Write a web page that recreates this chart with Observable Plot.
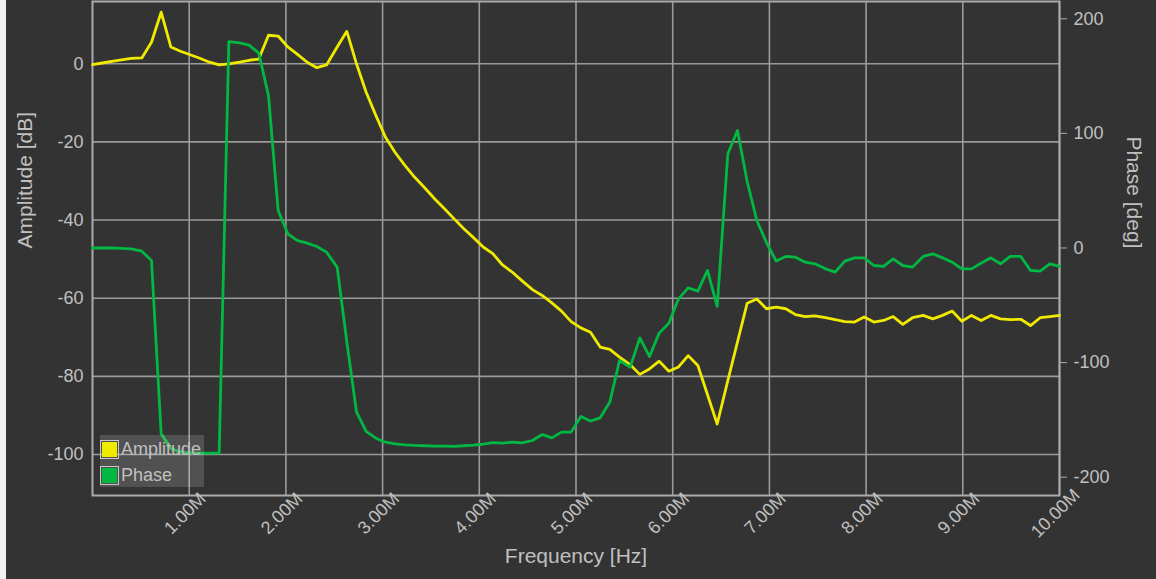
<!DOCTYPE html>
<html>
<head>
<meta charset="utf-8">
<script src="https://cdn.jsdelivr.net/npm/d3@7"></script>
<script src="https://cdn.jsdelivr.net/npm/@observablehq/plot@0.6"></script>
<style>
  html, body { margin: 0; padding: 0; background: #f2f2f2; }
  #wrap { position: relative; margin-left: 6px; width: 1150px; height: 579px; background: #333333; overflow: hidden;
          font-family: "Liberation Sans", Arial, sans-serif; }
  #legend { position: absolute; left: 94px; top: 435px; width: 104px; height: 52px; background: rgba(255,255,255,0.15); }
  .item { position: absolute; left: 0; height: 20px; display: flex; align-items: center; color: #c0c0c0; font-size: 18px; }
  .sw { width: 17px; height: 17px; border: 1.5px solid #c8c8c8; box-sizing: content-box; margin-right: 2px; }
  .sw div { width: 15px; height: 15px; margin: 1px; }
</style>
</head>
<body>
<div id="wrap"><div id="chart"></div>
  <div id="legend">
    <div class="item" style="top:4px"><div class="sw"><div id="swA"></div></div><span>Amplitude</span></div>
    <div class="item" style="top:30px"><div class="sw"><div id="swP"></div></div><span>Phase</span></div>
  </div>
</div>
<script>
// Frequency in MHz
const freq = [0.00,0.10,0.20,0.30,0.40,0.51,0.61,0.71,0.81,0.91,
  1.01,1.11,1.21,1.31,1.41,1.52,1.62,1.72,1.82,1.92,
  2.02,2.12,2.22,2.32,2.42,2.53,2.63,2.73,2.83,2.93,
  3.03,3.13,3.23,3.33,3.43,3.54,3.64,3.74,3.84,3.94,
  4.04,4.14,4.24,4.34,4.44,4.55,4.65,4.75,4.85,4.95,
  5.05,5.15,5.25,5.35,5.45,5.56,5.66,5.76,5.86,5.96,
  6.06,6.16,6.26,6.36,6.46,6.57,6.67,6.77,6.87,6.97,
  7.07,7.17,7.27,7.37,7.47,7.58,7.68,7.78,7.88,7.98,
  8.08,8.18,8.28,8.38,8.48,8.59,8.69,8.79,8.89,8.99,
  9.09,9.19,9.29,9.39,9.49,9.60,9.70,9.80,9.90,10.00];

// Amplitude in dB
const amplitude = [-0.2,0.2,0.6,1.0,1.4,1.5,5.5,13.2,4.3,3.2,
  2.3,1.4,0.4,-0.3,0.0,0.4,0.9,1.2,7.3,7.1,
  4.3,2.4,0.4,-1.0,-0.3,4.3,8.3,0.0,-7.3,-13.2,
  -18.8,-22.7,-26.0,-29.0,-31.6,-34.6,-37.1,-39.7,-42.2,-44.5,
  -46.9,-48.6,-51.5,-53.3,-55.5,-57.8,-59.3,-61.2,-63.3,-66.0,
  -67.6,-68.7,-72.5,-73.1,-75.1,-77.0,-79.5,-78.1,-76.1,-78.7,
  -77.6,-74.7,-77.2,-84.7,-92.2,-81.1,-71.2,-61.3,-60.2,-62.7,
  -62.3,-62.7,-64.2,-64.7,-64.5,-65.0,-65.5,-66.0,-66.1,-64.8,
  -66.1,-65.7,-64.7,-66.7,-65.0,-64.4,-65.3,-64.4,-63.3,-65.9,
  -64.4,-65.7,-64.4,-65.3,-65.5,-65.4,-67.0,-65.0,-64.7,-64.4];

// Phase in degrees
const phase = [0,0,0,-0.4,-0.7,-2.8,-10.9,-162,-175,-178,
  -179,-179,-179,-179,180,179,177,170,133,32.7,
  12.4,6.5,4.2,1.3,-3.6,-16.7,-82,-143,-160,-166,
  -169.5,-171,-171.8,-172.3,-172.6,-172.9,-172.9,-173.2,-172.6,-172,
  -171.2,-169.8,-170.3,-169.4,-170,-168,-162.8,-165.7,-160.7,-160.7,
  -147,-151,-148.2,-134.5,-98.2,-104,-78.4,-94.7,-74.3,-65.6,
  -44.4,-34.8,-37.7,-19.6,-51,82.2,102.5,58,24,4.6,
  -11.4,-7.4,-8,-12.4,-13.8,-18.2,-21.1,-11.4,-8.6,-8.6,
  -15.3,-16.1,-9.5,-15.3,-16.7,-7.4,-5.1,-8.6,-12.4,-18.2,
  -18.2,-13.2,-8.6,-13.8,-7.4,-7.4,-19.6,-20.2,-13.8,-16.1];

const xTicks = [1,2,3,4,5,6,7,8,9,10];
const ampTicks = [-100,-80,-60,-40,-20,0];
const phaseTicks = [-200,-100,0,100,200];

const ampDomain = [-110.5, 15.94];
const phaseDomain = [-216.0, 215.1];

const yellow = "#f0e900";
const green = "#00b842";
const textColor = "#c0c0c0";

document.getElementById("swA").style.background = yellow;
document.getElementById("swP").style.background = green;

const toAmp = d3.scaleLinear().domain(phaseDomain).range(ampDomain);
const rows = freq.map((f, i) => ({f, amp: amplitude[i], phase: phase[i]}));

const chart = Plot.plot({
  width: 1150, height: 579,
  marginLeft: 86, marginRight: 97, marginTop: 1, marginBottom: 84,
  style: {background: "#333333", color: textColor, fontFamily: "'Liberation Sans', Arial, sans-serif", fontSize: "18px"},
  x: {domain: [0, 10], axis: null},
  y: {domain: ampDomain, axis: null},
  marks: [
    Plot.gridY(ampTicks, {stroke: "#9a9a9a", strokeOpacity: 1, strokeWidth: 1.6}),
    Plot.gridX(xTicks, {stroke: "#9a9a9a", strokeOpacity: 1, strokeWidth: 1.6}),
    Plot.frame({stroke: "#ababab", strokeWidth: 2}),
    Plot.axisY(ampTicks, {anchor: "left", tickSize: 0, tickPadding: 9, label: null, tickFormat: d => String(d), fontSize: 18, color: textColor}),
    Plot.axisY(phaseTicks.map(p => toAmp(p)), {anchor: "right", tickSize: 7, tickPadding: 7, label: null,
      tickFormat: d => String(Math.round(toAmp.invert(d))), fontSize: 18, color: textColor, stroke: "#ababab"}),
    Plot.text(xTicks, {x: d => d, frameAnchor: "bottom", dy: 22, rotate: -45, text: d => d.toFixed(2) + "M",
      fill: textColor, fontSize: 18, textAnchor: "middle"}),
    Plot.text(["Frequency [Hz]"], {frameAnchor: "bottom", dy: 67, fill: textColor, fontSize: 21}),
    Plot.text(["Amplitude [dB]"], {frameAnchor: "left", dx: -67, rotate: -90, fill: textColor, fontSize: 21}),
    Plot.text(["Phase [deg]"], {frameAnchor: "right", dx: 74, rotate: 90, fill: textColor, fontSize: 21}),
    Plot.line(rows, {x: "f", y: "amp", stroke: yellow, strokeWidth: 2.8}),
    Plot.line(rows, {x: "f", y: d => toAmp(d.phase), stroke: green, strokeWidth: 2.8})
  ]
});
document.getElementById("chart").appendChild(chart);
</script>
</body>
</html>
